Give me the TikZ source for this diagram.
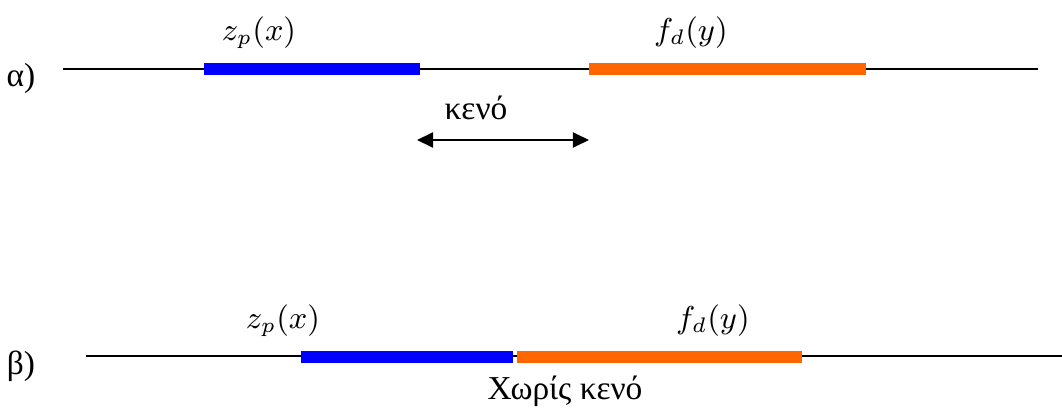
\documentclass[tikz,border=0pt]{standalone}
\usepackage{fontspec}
\usetikzlibrary{arrows.meta}
\newfontfamily\greekfont{Liberation Serif}
\definecolor{segblue}{RGB}{0,0,255}
\definecolor{segorange}{RGB}{255,102,0}
\tikzset{
    axisline/.style={line width=0.6pt},
    segbar/.style={line width=3.2pt},
    mathlbl/.style={font=\fontsize{9}{11}\selectfont, inner sep=0pt},
    greeklbl/.style={font=\fontsize{9.5}{11}\selectfont\greekfont, inner sep=0pt},
}
\begin{document}
\begin{tikzpicture}[x=0.01cm, y=-0.01cm]
        \useasboundingbox (0,0) rectangle (1062,409);
        % ── (α) με κενό ─────────────────────────────────────
        \begin{scope}
            \node[greeklbl] (tagA) at (21,78) {α)};
            \coordinate (axA0) at (63,69);
            \coordinate (axA1) at (1038,69);
            \draw[axisline] (axA0) -- (axA1);
            % τα δύο τμήματα
            \coordinate (zpA0) at (204,69);
            \coordinate (zpA1) at (420,69);
            \coordinate (fdA0) at (589,69);
            \coordinate (fdA1) at (866,69);
            \draw[segbar, segblue] (zpA0) -- (zpA1);
            \draw[segbar, segorange] (fdA0) -- (fdA1);
            \node[mathlbl] (zpAlbl) at (259,33) {$z_{p}(x)$};
            \node[mathlbl] (fdAlbl) at (691,33) {$f_{d}(y)$};
            % το κενό
            \node[greeklbl] (gapLbl) at (476,108) {κενό};
            \coordinate (gapL) at (417,140);
            \coordinate (gapR) at (589,140);
            \draw[{Triangle[length=4.6pt,width=4.3pt]}-{Triangle[length=4.6pt,width=4.3pt]}, line width=0.6pt] (gapL) -- (gapR);
        \end{scope}
        % ── (β) χωρίς κενό ──────────────────────────────────
        \begin{scope}
            \node[greeklbl] (tagB) at (21,366) {β)};
            \coordinate (axB0) at (86,356);
            \coordinate (axB1) at (1062,356);
            \draw[axisline] (axB0) -- (axB1);
            \coordinate (zpB0) at (301,357);
            \coordinate (zpB1) at (513,357);
            \coordinate (fdB0) at (517,357);
            \coordinate (fdB1) at (802,357);
            \draw[segbar, segblue] (zpB0) -- (zpB1);
            \draw[segbar, segorange] (fdB0) -- (fdB1);
            \node[mathlbl] (zpBlbl) at (283,321) {$z_{p}(x)$};
            \node[mathlbl] (fdBlbl) at (713,321) {$f_{d}(y)$};
            \node[greeklbl] (noGapLbl) at (565,391) {Χωρίς κενό};
        \end{scope}
    \end{tikzpicture}
\end{document}
